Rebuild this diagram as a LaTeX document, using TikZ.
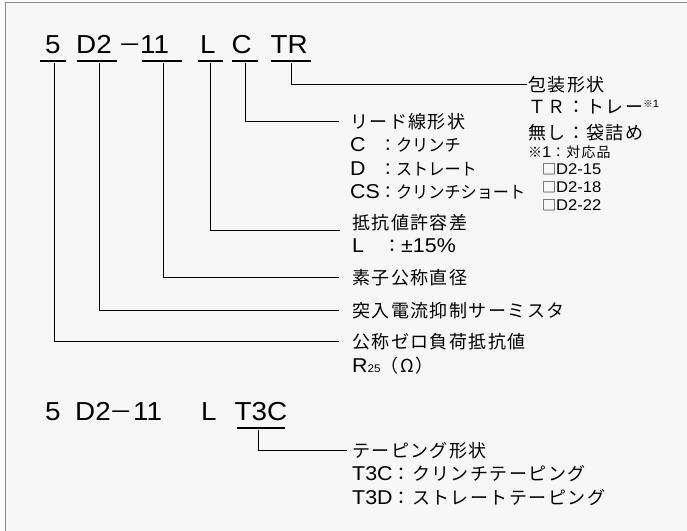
\documentclass[tikz,border=0pt]{standalone}
\usepackage{fontspec}
\setmainfont[FakeStretch=1.07]{Liberation Sans}
\newfontfamily\jp[Scale=0.9,LetterSpace=8]{Noto Sans CJK JP}
\newfontfamily\jpn[Scale=0.85,FakeStretch=0.95]{Noto Sans CJK JP}
\usetikzlibrary{positioning}
\definecolor{paper}{HTML}{F6F7F6}
\definecolor{rim}{HTML}{8C8C8C}

\tikzset{
  code/.style={anchor=base west,inner sep=0pt,font=\fontsize{26}{30}\selectfont},
  bar/.style={fill=black,inner sep=0pt,minimum height=2.7pt},
  desc/.style={anchor=base west,inner sep=0pt,font=\fontsize{20}{23.5}\selectfont},
  note/.style={anchor=base west,inner sep=0pt,font=\fontsize{15.5}{17.7}\selectfont},
  wire/.style={line width=0.9pt},
}

\begin{document}
\begin{tikzpicture}[x=1pt,y=-1pt]
  \useasboundingbox (0,0) rectangle (687,530);
  \fill[white] (0,0) rectangle (687,530);
  \filldraw[fill=paper,draw=rim,line width=1.3pt] (5.5,2.5) rectangle (700,540);

  % full part number
  \draw (45,53) node[code] (c5) {5};
  \draw (76,53) node[code] (cD2) {D2};
  \draw (130.5,53) node[code,anchor=base] (cdash) {\jp －};
  \draw (140,53) node[code] (c11) {11};
  \draw (200,53) node[code] (cL) {L};
  \draw (231.5,53) node[code] (cC) {C};
  \draw (270.5,53) node[code] (cTR) {TR};
  \draw (53,61) node[bar,minimum width=26pt] (bar5) {};
  \draw (97,61) node[bar,minimum width=40pt] (barD2) {};
  \draw (162,61) node[bar,minimum width=40pt] (bar11) {};
  \draw (210.5,61) node[bar,minimum width=25pt] (barL) {};
  \draw (245,61) node[bar,minimum width=26pt] (barC) {};
  \draw (291,61) node[bar,minimum width=40pt] (barTR) {};

  \draw (528,91) node[desc] (pack) {\begin{tabular}[t]{@{}l@{}}
    {\jp 包装形状}\\[-1pt]
    {\jp ＴＲ：トレー}\raisebox{6pt}{\fontsize{10.5}{10.5}\selectfont{\jp ※}1}\\[2pt]
    {\jp 無し：袋詰め}\end{tabular}};
  \draw (528,157) node[note] (packnote) {\begin{tabular}[t]{@{}l@{}}
    {\jp ※}1{\jp ：対応品}\\
    \hspace{14pt}{\jp □}D2-15\\
    \hspace{14pt}{\jp □}D2-18\\
    \hspace{14pt}{\jp □}D2-22\end{tabular}};
  \draw (350,128) node[desc] (leads) {\begin{tabular}[t]{@{}l@{}l@{}}
    \multicolumn{2}{@{}l@{}}{\jp リード線形状}\\
    C&{\jpn ：クリンチ}\\
    D&{\jpn ：ストレート}\\
    CS&{\jpn ：クリンチショート}\end{tabular}};
  \draw (352,229) node[desc] (tol) {\begin{tabular}[t]{@{}l@{}}
    {\jp 抵抗値許容差}\\
    \makebox[31pt][l]{L}{\jp ：}±15\%\end{tabular}};
  \draw (352,284) node[desc] (dia) {\jp 素子公称直径};
  \draw (352,317) node[desc] (icl) {\jp 突入電流抑制サーミスタ};
  \draw (352,348) node[desc] (rzero) {\begin{tabular}[t]{@{}l@{}}
    {\jp 公称ゼロ負荷抵抗値}\\[0.5pt]
    R{\fontsize{11}{11}\selectfont 25}{\jp （Ω）}\end{tabular}};

  \draw[wire] (barTR.south) |- ([xshift=-1pt,yshift=7pt]pack.base west);
  \draw[wire] (barC.south) |- ([xshift=-11pt,yshift=7pt]leads.base west);
  \draw[wire] (barL.south) |- ([xshift=-12pt,yshift=-1pt]tol.base west);
  \draw[wire] ([xshift=1pt]bar11.south) |- ([xshift=-13pt,yshift=7pt]dia.base west);
  \draw[wire] ([xshift=2pt]barD2.south) |- ([xshift=-13pt,yshift=7pt]icl.base west);
  \draw[wire] ([xshift=1pt]bar5.south) |- ([xshift=-13pt,yshift=7pt]rzero.base west);

  % taping variant
  \draw (45,420) node[code] (b5) {5};
  \draw (75,420) node[code] (bD2) {D2};
  \draw (121.5,420) node[code,anchor=base] (bdash) {\jp －};
  \draw (133,420) node[code] (b11) {11};
  \draw (201,420) node[code] (bL) {L};
  \draw (234.5,420) node[code] (bT3C) {T3C};
  \draw (261,428) node[bar,minimum width=48pt] (barT3C) {};

  \draw (352,457) node[desc] (tape) {\begin{tabular}[t]{@{}l@{}}
    {\jp テーピング形状}\\
    T3C{\jp ：クリンチテーピング}\\
    T3D{\jp ：ストレートテーピング}\end{tabular}};
  \draw[wire] ([xshift=-3pt]barT3C.south) |- ([xshift=-5pt,yshift=7pt]tape.base west);
\end{tikzpicture}
\end{document}
